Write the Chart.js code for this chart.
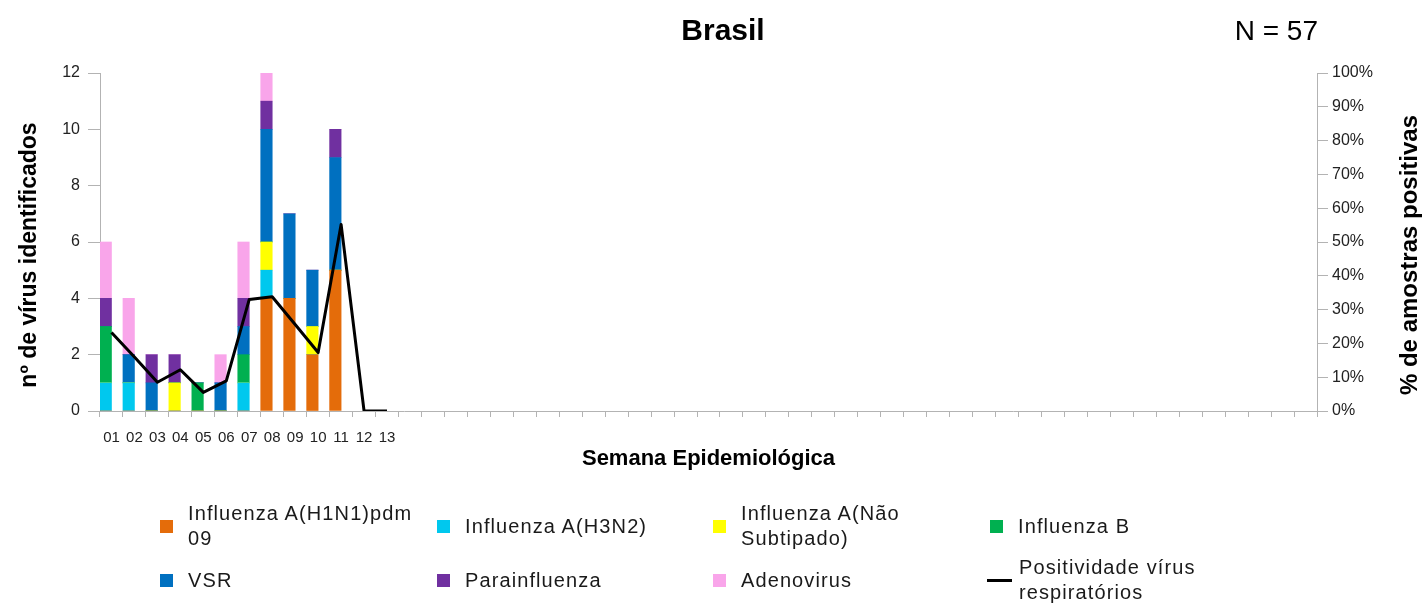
<!DOCTYPE html>
<html><head><meta charset="utf-8">
<script src="https://cdn.jsdelivr.net/npm/chart.js@4"></script>
<style>
html,body{margin:0;padding:0;background:#fff;}
#wrap{position:relative;width:1426px;height:604px;}
#legend{position:absolute;left:0;top:0;width:1426px;height:604px;pointer-events:none;font-family:'Liberation Sans',Arial,sans-serif;font-size:20px;letter-spacing:1.1px;color:#1a1a1a;}
.item{position:absolute;height:60px;display:flex;align-items:center;}
.sw{width:13px;height:13px;margin-right:15px;flex:none;}
.ln{width:25px;height:3px;background:#000;margin-left:-3px;margin-right:7px;flex:none;}
.txt{white-space:pre-line;line-height:25px;}
</style></head><body>
<div id="wrap"><canvas id="c" width="1426" height="604"></canvas><div id="legend"></div></div>
<script>
// ---- data ----
const weeks = ['01','02','03','04','05','06','07','08','09','10','11','12','13','14','15','16','17','18','19','20','21','22','23','24','25','26','27','28','29','30','31','32','33','34','35','36','37','38','39','40','41','42','43','44','45','46','47','48','49','50','51','52','53'];
const h1n1   = [0,0,0,0,0,0,0,4,4,2,5];
const h3n2   = [1,1,0,0,0,0,1,1,0,0,0];
const fluANS = [0,0,0,1,0,0,0,1,0,1,0];
const fluB   = [2,0,0,0,1,0,1,0,0,0,0];
const vsr    = [0,1,1,0,0,1,1,4,3,2,4];
const para   = [1,0,1,1,0,0,1,1,0,0,1];
const adeno  = [2,2,0,0,0,1,2,1,0,0,0];
const positividade = [23.2,16.0,8.5,12.2,5.5,8.9,33.0,33.8,25.6,17.3,55.2,0,0];
const seriesLabels = ['Influenza A(H1N1)pdm\n09','Influenza A(H3N2)','Influenza A(Não\nSubtipado)','Influenza B','VSR','Parainfluenza','Adenovirus'];
const lineLabel = 'Positividade vírus\nrespiratórios';
const seriesColors = ['#E46C0A','#00C8EE','#FFFF00','#00B050','#0070C0','#7030A0','#F9A5EA'];
const chartTitle = 'Brasil';
const countLabel = 'N = 57';
const yTitle = 'nº de vírus identificados';
const y2Title = '% de amostras positivas';
const xTitle = 'Semana Epidemiológica';
const yTicks = [0,12,2];
const y2Ticks = [0,100,10];

const FONT = "'Liberation Sans', Arial, sans-serif";
Chart.defaults.font.family = FONT;
Chart.defaults.color = '#222';

const seriesData = [h1n1,h3n2,fluANS,fluB,vsr,para,adeno];
const datasets = seriesData.map((d,i)=>({
  type:'bar', label: seriesLabels[i].replace('\n',' '), data: d, backgroundColor: seriesColors[i],
  stack:'virus', yAxisID:'y', borderWidth:0, categoryPercentage:1, barPercentage:1
}));
// empty second group (reserves the right half of each week, as in the source chart)
datasets.push({type:'bar', label:'', data:[], stack:'pad', yAxisID:'y', categoryPercentage:1, barPercentage:1});
datasets.push({type:'line', label: lineLabel.replace('\n',' '), data: positividade, yAxisID:'y2',
  borderColor:'#000', borderWidth:3, borderJoinStyle:'round', pointRadius:0, tension:0, fill:false, order:-1});

const GRID = '#b3b3b3';
const texts = {
  id:'texts',
  afterDraw(chart){
    const ctx = chart.ctx;
    ctx.save();
    ctx.fillStyle = '#000';
    ctx.textBaseline = 'alphabetic';
    ctx.font = 'bold 30px ' + FONT;
    ctx.textAlign = 'center';
    ctx.fillText(chartTitle, 723, 40);
    ctx.font = '28px ' + FONT;
    ctx.textAlign = 'right';
    ctx.fillText(countLabel, 1318, 40);
    ctx.font = 'bold 23px ' + FONT;
    ctx.textAlign = 'center';
    ctx.textBaseline = 'middle';
    ctx.save(); ctx.translate(30, 255); ctx.rotate(-Math.PI/2); ctx.fillText(yTitle,0,0); ctx.restore();
    ctx.font = 'bold 24px ' + FONT;
    ctx.save(); ctx.translate(1410, 255); ctx.rotate(-Math.PI/2); ctx.fillText(y2Title,0,0); ctx.restore();
    ctx.restore();
  }
};

new Chart(document.getElementById('c'), {
  data: { labels: weeks, datasets },
  plugins: [texts],
  options: {
    responsive:false, animation:false,
    layout:{ padding:{ left:0, right:0, top:73, bottom:132 } },
    plugins:{ legend:{display:false}, title:{display:false}, tooltip:{enabled:false} },
    scales:{
      x:{
        type:'category', offset:true, stacked:true,
        grid:{ offset:true, drawOnChartArea:false, drawTicks:true, tickLength:6, color:GRID },
        border:{ color:GRID },
        ticks:{ autoSkip:false, maxRotation:0, minRotation:0, padding:12, font:{size:15}, color:'#222',
          callback:(v,i)=> i < positividade.length ? weeks[i] : '' },
        title:{ display:true, text:xTitle, font:{size:22, weight:'bold'}, color:'#000', padding:{top:0,bottom:0} },
        afterFit:(s)=>{ s.height = 61; }
      },
      y:{
        position:'left', stacked:true, min:yTicks[0], max:yTicks[1],
        ticks:{ stepSize:yTicks[2], padding:8, font:{size:16}, color:'#222' },
        grid:{ drawOnChartArea:false, drawTicks:true, tickLength:12, color:GRID },
        border:{ color:GRID },
        afterFit:(s)=>{ s.width = 100; }
      },
      y2:{
        position:'right', min:y2Ticks[0], max:y2Ticks[1],
        ticks:{ stepSize:y2Ticks[2], padding:4, font:{size:16}, color:'#222', callback:(v)=> v + '%' },
        grid:{ drawOnChartArea:false, drawTicks:true, tickLength:11, color:GRID },
        border:{ color:GRID },
        afterFit:(s)=>{ s.width = 109; }
      }
    }
  }
});

// ---- legend (4 columns, wrapped labels as in the source) ----
const leg = document.getElementById('legend');
const colX = [160, 437, 713, 990];
const rowY = [526, 580];
const items = seriesLabels.map((t,i)=>({text:t, color:seriesColors[i], line:false}));
items.push({text:lineLabel, line:true});
items.forEach((it,i)=>{
  const d = document.createElement('div');
  d.className = 'item';
  d.style.left = colX[i%4] + 'px';
  d.style.top = (rowY[Math.floor(i/4)] - 30) + 'px';
  const m = document.createElement('span');
  if (it.line) { m.className = 'ln'; } else { m.className = 'sw'; m.style.background = it.color; }
  const t = document.createElement('span');
  t.className = 'txt'; t.textContent = it.text;
  d.appendChild(m); d.appendChild(t);
  leg.appendChild(d);
});
</script>
</body></html>
